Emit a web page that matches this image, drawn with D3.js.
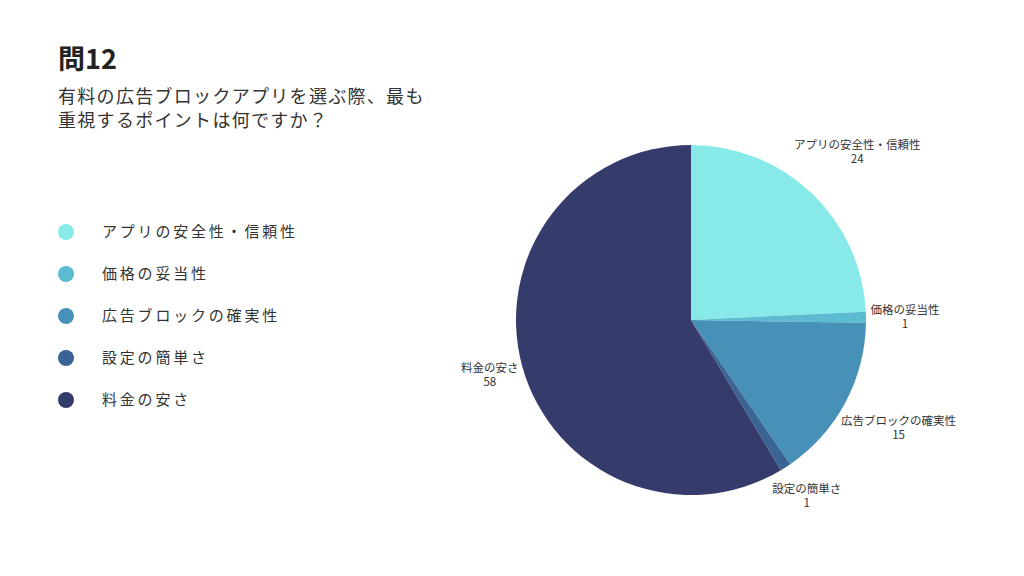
<!DOCTYPE html>
<html>
<head>
<meta charset="utf-8">
<script src="https://cdn.jsdelivr.net/npm/d3@7"></script>
<style>
  body { margin: 0; background: #fff; }
  text { font-family: "Noto Sans CJK JP", "Noto Sans", sans-serif; }
</style>
</head>
<body>
<script>
var width = 1024;
var height = 576;

var categories = ["アプリの安全性・信頼性", "価格の妥当性", "広告ブロックの確実性", "設定の簡単さ", "料金の安さ"];
var values = [24, 1, 15, 1, 58];
var colors = ["#87eae8", "#5bbcd1", "#4791b8", "#3a6493", "#353c6c"];

var title = "問12";
var subtitle = ["有料の広告ブロックアプリを選ぶ際、最も", "重視するポイントは何ですか？"];

var cx = 691, cy = 320, radius = 175;

var svg = d3.select("body").append("svg")
    .attr("width", width)
    .attr("height", height);

// title block
svg.append("text")
  .attr("x", 58).attr("y", 69)
  .attr("font-size", 27).attr("font-weight", "bold")
  .attr("fill", "#222")
  .text(title);

svg.selectAll(".sub")
  .data(subtitle)
.enter().append("text")
  .attr("class", "sub")
  .attr("x", 58)
  .attr("y", function(d, i) { return 103 + i * 24; })
  .attr("font-size", 18)
  .attr("letter-spacing", 1.3)
  .attr("fill", "#333")
  .text(function(d) { return d; });

// legend
var legendY = d3.scaleBand().domain(categories).range([211, 421]);

var legend = svg.selectAll(".legend")
  .data(categories)
.enter().append("g")
  .attr("class", "legend")
  .attr("transform", function(d) { return "translate(0," + (legendY(d) + legendY.bandwidth() / 2) + ")"; });

legend.append("circle")
  .attr("cx", 66).attr("cy", 0).attr("r", 8)
  .attr("fill", function(d, i) { return colors[i]; });

legend.append("text")
  .attr("x", 102).attr("y", 0)
  .attr("dy", "0.35em")
  .attr("font-size", 15)
  .attr("letter-spacing", 2.8)
  .attr("fill", "#333")
  .text(function(d) { return d; });

// pie
var pie = d3.pie().sort(null).value(function(d) { return d; });
var arcs = pie(values);
var arc = d3.arc().innerRadius(0).outerRadius(radius);

var g = svg.append("g").attr("transform", "translate(" + cx + "," + cy + ")");

g.selectAll("path")
  .data(arcs)
.enter().append("path")
  .attr("d", arc)
  .attr("fill", function(d, i) { return colors[i]; });

// labels
var labelR = 182;
var labels = g.selectAll(".lbl")
  .data(arcs)
.enter().append("text")
  .attr("class", "lbl")
  .attr("font-size", 11.5)
  .attr("fill", "#333")
  .attr("text-anchor", "middle");

labels.append("tspan")
  .attr("x", 0).attr("dy", 0)
  .text(function(d, i) { return categories[i]; });
labels.append("tspan")
  .attr("x", 0).attr("dy", 14)
  .text(function(d) { return d.value; });

labels.attr("transform", function(d) {
  var a = (d.startAngle + d.endAngle) / 2;
  var w = this.getBBox().width;
  var x = Math.sin(a) * (labelR + 0.93 * w / 2);
  var y = -Math.cos(a) * (labelR + 0.4 * w);
  return "translate(" + x + "," + (y - 3) + ")";
});
</script>
</body>
</html>
